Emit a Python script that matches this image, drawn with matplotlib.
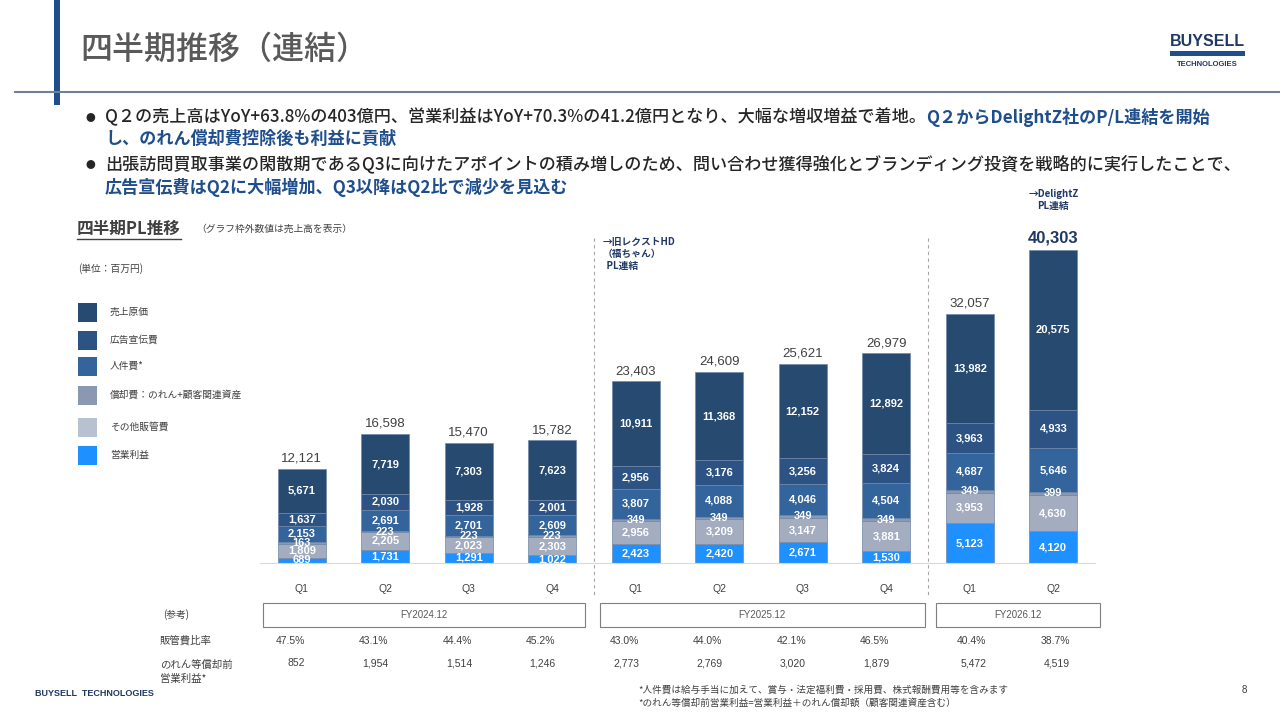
import matplotlib
matplotlib.use('Agg')
import matplotlib.pyplot as plt
import matplotlib.transforms as mtrans
from matplotlib.patches import Rectangle
import numpy as np

plt.rcParams['font.family'] = ['Noto Sans CJK JP', 'DejaVu Sans']
NUM = ['Liberation Sans', 'DejaVu Sans']

# ---- data (百万円) ----
quarters = ['Q1', 'Q2', 'Q3', 'Q4', 'Q1', 'Q2', 'Q3', 'Q4', 'Q1', 'Q2']
fiscal_years = ['FY2024.12', 'FY2025.12', 'FY2026.12']
fy_quarters = [4, 4, 2]
sales = [12121, 16598, 15470, 15782, 23403, 24609, 25621, 26979, 32057, 40303]
cogs = [5671, 7719, 7303, 7623, 10911, 11368, 12152, 12892, 13982, 20575]
ad_cost = [1637, 2030, 1928, 2001, 2956, 3176, 3256, 3824, 3963, 4933]
personnel = [2153, 2691, 2701, 2609, 3807, 4088, 4046, 4504, 4687, 5646]
amortization = [163, 223, 223, 223, 349, 349, 349, 349, 349, 399]
other_sga = [1809, 2205, 2023, 2303, 2956, 3209, 3147, 3881, 3953, 4630]
op_income = [689, 1731, 1291, 1022, 2423, 2420, 2671, 1530, 5123, 4120]
sga_ratio = ['47.5%', '43.1%', '44.4%', '45.2%', '43.0%', '44.0%', '42.1%', '46.5%', '40.4%', '38.7%']
op_before_amort = ['852', '1,954', '1,514', '1,246', '2,773', '2,769', '3,020', '1,879', '5,472', '4,519']

legend_labels = ['売上原価', '広告宣伝費', '人件費*', '償却費：のれん+顧客関連資産', 'その他販管費', '営業利益']
legend_colors = ['#264a70', '#2c5383', '#33649b', '#8a99b1', '#b7c1d0', '#1e90ff']

# stacked bottom -> top
stack = [op_income, other_sga, amortization, personnel, ad_cost, cogs]
stack_colors = ['#1e90ff', '#a3adbf', '#8a99b1', '#33649b', '#2c5383', '#264a70']

W, H = 1280, 720
def fx(x): return x / W
def fy(y): return 1 - y / H

fig = plt.figure(figsize=(12.8, 7.2), dpi=100)
fig.patch.set_facecolor('white')
renderer = fig.canvas.get_renderer()

# ---- header ----
fig.add_artist(Rectangle((fx(54), fy(105)), fx(6), 105 / H, color='#1f4e8c', lw=0))
fig.add_artist(plt.Line2D([fx(15), 1], [fy(92), fy(92)], color='#6d8297', lw=1.5))
fig.text(fx(80), fy(50), '四半期推移（連結）', fontsize=23, color='#595959', va='center', weight='medium')
fig.text(fx(1207), fy(42), 'BUYSELL', fontsize=11.5, color='#1f3864', va='center', ha='center',
         weight='bold', family=NUM)
fig.add_artist(Rectangle((fx(1170), fy(56)), fx(75), 5 / H, color='#1f4e8c', lw=0))
fig.text(fx(1207), fy(65), 'TECHNOLOGIES', fontsize=5.5, color='#1f3864', va='center', ha='center',
         weight='bold', family=NUM)

BLK = '#262626'
BLU = '#1f4e8c'
def runs(x, y, parts, size=12.3):
    for txt, col, wt in parts:
        t = fig.text(fx(x), fy(y), txt, fontsize=size, color=col, weight=wt, va='center')
        bb = t.get_window_extent(renderer=renderer)
        x = x + bb.width

fig.text(fx(86), fy(118), '●', fontsize=7, color=BLK, va='center')
runs(105, 117, [('Q２の売上高はYoY+63.8%の403億円、営業利益はYoY+70.3%の41.2億円となり、大幅な増収増益で着地。', BLK, 'medium'),
                ('Q２からDelightZ社のP/L連結を開始', BLU, 'bold')])
runs(105, 139, [('し、のれん償却費控除後も利益に貢献', BLU, 'bold')])
fig.text(fx(86), fy(165), '●', fontsize=7, color=BLK, va='center')
runs(105, 164, [('出張訪問買取事業の閑散期であるQ3に向けたアポイントの積み増しのため、問い合わせ獲得強化とブランディング投資を戦略的に実行したことで、', BLK, 'medium')])
runs(105, 187, [('広告宣伝費はQ2に大幅増加、Q3以降はQ2比で減少を見込む', BLU, 'bold')])

# ---- left panel ----
GRY = '#404040'
t = fig.text(fx(77), fy(229), '四半期PL推移', fontsize=12, color=GRY, weight='bold', va='center')
bb = t.get_window_extent(renderer=renderer)
fig.add_artist(plt.Line2D([fx(77), fx(77 + bb.width)], [fy(239), fy(239)], color=GRY, lw=1))
fig.text(fx(196), fy(229), '（グラフ枠外数値は売上高を表示）', fontsize=7, color=GRY, va='center')
fig.text(fx(78), fy(269), '(単位：百万円)', fontsize=7, color=GRY, va='center')
leg_y = [312, 340, 366, 395, 427, 455]
for lab, col, yy in zip(legend_labels, legend_colors, leg_y):
    fig.add_artist(Rectangle((fx(78), fy(yy + 10)), fx(19), 19 / H, color=col, lw=0))
    fig.text(fx(110), fy(yy), lab, fontsize=7, color=GRY, va='center')

# ---- chart ----
scale = 0.007766  # px per 百万円
ax = fig.add_axes([fx(260), fy(563), fx(835), (563 - 200) / H])
ax.set_xlim(-0.5, 9.5)
ax.set_ylim(0, (563 - 200) / scale)
x = np.arange(len(sales))
bottom = np.zeros(len(sales))
for vals, col in zip(stack, stack_colors):
    vals = np.array(vals, dtype=float)
    ax.bar(x, vals, 0.575, bottom=bottom, color=col, edgecolor='#7088a8', linewidth=0.5)
    for xi, b, v in zip(x, bottom, vals):
        ax.text(xi, b + v / 2, f'{int(v):,}', ha='center', va='center', color='white',
                fontsize=8, weight='bold', family=NUM)
    bottom += vals

for xi, s in zip(x, sales):
    last = xi == len(sales) - 1
    ax.annotate(f'{s:,}', (xi, s), xytext=(0, 3), textcoords='offset points', ha='center', va='bottom',
                fontsize=12 if last else 9.5, color='#1f3864' if last else '#404040',
                weight='bold' if last else 'normal', family=NUM)

for sp in ['top', 'right', 'left']:
    ax.spines[sp].set_visible(False)
ax.spines['bottom'].set_color('#d9d9d9')
ax.set_yticks([])
ax.set_xticks(x)
ax.set_xticklabels(quarters, fontsize=7.5, color=GRY, family=NUM)
ax.tick_params(axis='x', length=0, pad=15)
ax.patch.set_alpha(0)

bounds = np.cumsum(fy_quarters)[:-1] - 0.5
for bx in bounds:
    ax.plot([bx, bx], [(563 - 238) / scale, -(598 - 563) / scale], ls=(0, (3, 3)), color='#a6a6a6',
            lw=0.8, clip_on=False)

ax.text(3.6, (563 - 237) / scale, '→旧レクストHD\n（福ちゃん）\n  PL連結', fontsize=7, color='#1f3864',
        weight='bold', va='top', ha='left', linespacing=1.25)
ax.text(9.0, (563 - 200) / scale, '→DelightZ\nPL連結', fontsize=7, color='#1f3864',
        weight='bold', va='center', ha='center', linespacing=1.3)

# ---- reference table ----
tb = mtrans.blended_transform_factory(ax.transData, fig.transFigure)
fig.text(fx(163), fy(615), '(参考)', fontsize=7, color=GRY, va='center')
box_pad = [(0.46, 0.39), (0.43, 0.46), (0.4, 0.56)]
start = 0
for name, n, (pl, pr) in zip(fiscal_years, fy_quarters, box_pad):
    l, r = start - pl, start + n - 1 + pr
    ax.add_artist(Rectangle((l, fy(627)), r - l, 24 / H, transform=tb, fill=False,
                            edgecolor='#7f7f7f', lw=0.8, clip_on=False))
    ax.text((l + r) / 2, fy(615), name, transform=tb, ha='center', va='center', fontsize=7,
            color='#595959', family=NUM, clip_on=False)
    start += n

fig.text(fx(160), fy(641), '販管費比率', fontsize=7.5, color=GRY, va='center')
fig.text(fx(160), fy(672), 'のれん等償却前\n営業利益*', fontsize=7.5, color=GRY, va='center', linespacing=1.5)
for i, (r1, r2) in enumerate(zip(sga_ratio, op_before_amort)):
    off = 0.2 if i >= 8 else 0.04
    ax.text(i + off, fy(641), r1, transform=tb, ha='right', va='center', fontsize=7.5, color=GRY,
            family=NUM, clip_on=False)
    ax.text(i + off, fy(663), r2, transform=tb, ha='right', va='center', fontsize=7.5, color=GRY,
            family=NUM, clip_on=False)

# ---- footer ----
fig.text(fx(35), fy(693), 'BUYSELL  TECHNOLOGIES', fontsize=6.5, color='#1f3864', weight='bold',
         va='center', family=NUM)
fig.text(fx(638), fy(690), '*人件費は給与手当に加えて、賞与・法定福利費・採用費、株式報酬費用等を含みます',
         fontsize=6.9, color=GRY, va='center')
fig.text(fx(638), fy(703), '*のれん等償却前営業利益=営業利益＋のれん償却額（顧客関連資産含む）',
         fontsize=6.9, color=GRY, va='center')
fig.text(fx(1242), fy(690), '8', fontsize=7, color=GRY, va='center', family=NUM)

fig.savefig('out.png', dpi=100)
